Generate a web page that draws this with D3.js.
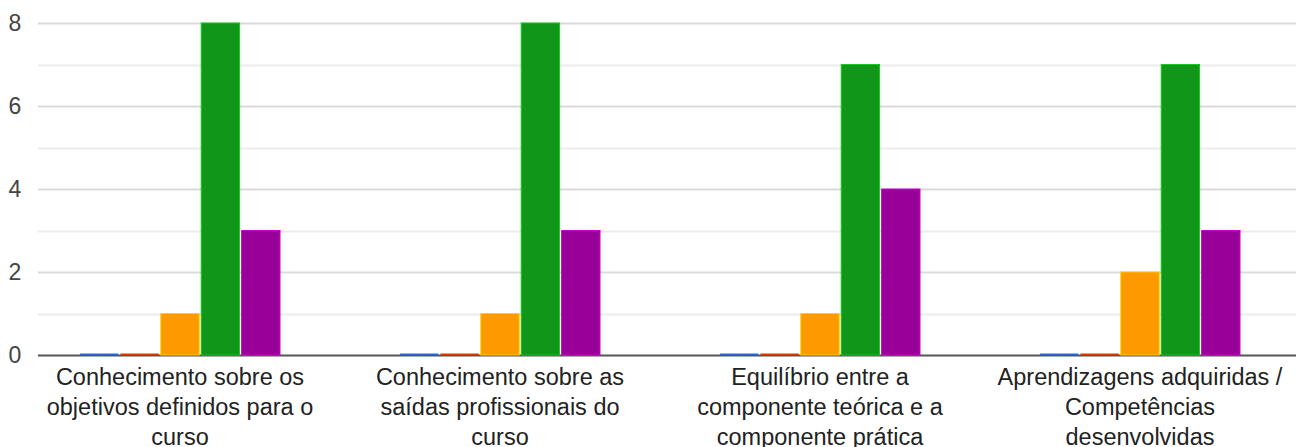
<!DOCTYPE html>
<html><head><meta charset="utf-8">
<script src="https://cdn.jsdelivr.net/npm/d3@7"></script>
<style>body{margin:0;background:#fff;} svg{display:block;font-family:"Liberation Sans",Arial,sans-serif;}</style>
</head><body><svg id="c" width="1296" height="447"></svg>
<script>
const categories = [
  ["Conhecimento sobre os","objetivos definidos para o","curso"],
  ["Conhecimento sobre as","saídas profissionais do","curso"],
  ["Equilíbrio entre a","componente teórica e a","componente prática"],
  ["Aprendizagens adquiridas /","Competências","desenvolvidas"]
];
const seriesNames = ["s1","s2","s3","s4","s5"];
const seriesColors = ["#3366cc","#dc3912","#ff9900","#109618","#990099"];
const s1 = [0,0,0,0];
const s2 = [0,0,0,0];
const s3 = [1,1,1,2];
const s4 = [8,8,7,7];
const s5 = [3,3,4,3];
const yTicks = [0,2,4,6,8];
const series = [s1,s2,s3,s4,s5];

const svg = d3.select("#c");
const x0 = d3.scaleBand().domain(d3.range(categories.length)).range([20,1300]).paddingInner(0).paddingOuter(0);
const x1 = d3.scaleBand().domain(seriesNames).range([0,200]).paddingInner(0.05);
const y = d3.scaleLinear().domain([0,8]).range([355,23]);
const groupOffset = (x0.bandwidth()-200)/2;

// gridlines
const g = svg.append("g");
g.selectAll("line.grid").data(d3.range(1,9)).join("line")
  .attr("x1",38).attr("x2",1296)
  .attr("y1",d=>Math.round(y(d))+0.5).attr("y2",d=>Math.round(y(d))+0.5)
  .attr("stroke",d=>d%2===0?"#dadada":"#ececec").attr("stroke-width",2);

// y labels
svg.append("g").selectAll("text").data(yTicks).join("text")
  .attr("x",15).attr("y",d=>y(d)).attr("dy","0.36em").attr("text-anchor","middle")
  .attr("font-size",23).attr("fill","#444").text(d=>d);

// baseline
svg.append("line").attr("x1",38).attr("x2",1296).attr("y1",355.5).attr("y2",355.5)
  .attr("stroke","#555").attr("stroke-width",2);

// bars
categories.forEach((c,i)=>{
  const gx = x0(i)+groupOffset;
  series.forEach((s,j)=>{
    const v = s[i];
    const top = y(v);
    const h = Math.max(1.5, y(0)-top);
    const col = d3.color(seriesColors[j]);
    svg.append("rect")
      .attr("x",gx + x1(seriesNames[j])).attr("width",x1.bandwidth())
      .attr("y",y(0)-h).attr("height",h)
      .attr("fill",seriesColors[j])
      .attr("stroke",v>0?col.brighter(0.8):"none").attr("stroke-width",1);
  });
});

// category labels
categories.forEach((lines,i)=>{
  const cx = x0(i)+x0.bandwidth()/2;
  const t = svg.append("text").attr("text-anchor","middle").attr("font-size",23.5).attr("fill","#222");
  lines.forEach((l,k)=>{
    t.append("tspan").attr("x",cx).attr("y",385+k*30).text(l);
  });
});
</script></body></html>
